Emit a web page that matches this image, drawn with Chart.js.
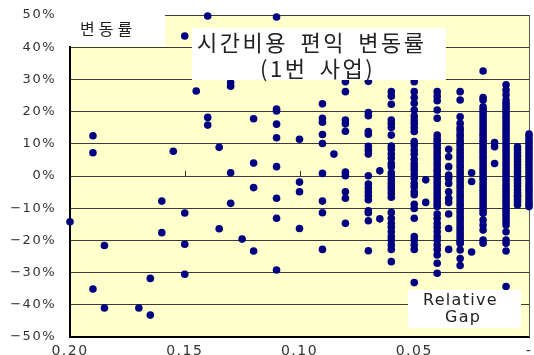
<!DOCTYPE html>
<html>
<head>
<meta charset="utf-8">
<script src="https://cdn.jsdelivr.net/npm/chart.js@4/dist/chart.umd.min.js"></script>
<style>
  html, body { margin: 0; padding: 0; background: #ffffff; }
  canvas { display: block; }
</style>
</head>
<body>
<canvas id="chart" width="534" height="355"></canvas>
<script>
// Relative gap levels (x) and the benefit change rates (%) observed at each level
const gapSteps = [0.20, 0.19, 0.185, 0.17, 0.165, 0.16, 0.155, 0.15, 0.145, 0.14, 0.135, 0.13, 0.125, 0.12,
  0.11, 0.10, 0.09, 0.085, 0.08, 0.07, 0.065, 0.06, 0.05, 0.045, 0.04, 0.035, 0.03, 0.025, 0.02, 0.015, 0.01, 0.005, 0];

const changeAtGap = [
  [-14.2],
  [12.5, 7.2, -35.1],
  [-21.6, -41.0],
  [-41.0],
  [-31.8, -43.2],
  [-7.8, -17.6],
  [7.7],
  [43.5, -11.5, -21.2, -30.5],
  [26.4],
  [49.7, 18.2, 15.8],
  [8.9, -16.4],
  [29.0, 27.9, 1.0, -8.5],
  [-19.6],
  [17.8, 4.0, -3.6, -23.3],
  [49.4, 20.8, 20.2, 16.1, 11.9, 2.9, -6.9, -13.1, -29.2],
  [11.4, -1.9, -4.9, -16.3],
  [22.4, 17.9, 16.7, 12.9, 10.1, 0.8, -7.8, -11.4, -22.8],
  [6.8],
  [29.3, 26.2, 17.4, 16.2, 13.9, 1.2, 0.1, -4.9, -6.9, -14.7],
  [29.4, 19.7, 18.7, 13.8, 13.0, 9.2, 8.0, 6.8, 0.1, -2.5, -3.7, -4.9, -6.1, -7.4, -10.8, -11.4, -13.9, -23.2],
  [1.6, -13.3],
  [26.2, 24.8, 22.3, 17.4, 16.4, 15.1, 12.7, 9.3, 8.3, 6.8, 5.5, 3.9, 2.9, 1.0, 0.1, -1.2, -2.3, -3.3, -4.3,
   -5.4, -6.6, -11.3, -13.1, -14.7, -15.9, -17.3, -18.8, -19.9, -21.4, -22.8, -26.6],
  [29.3, 26.2, 24.4, 22.6, 20.5, 18.6, 17.4, 16.4, 15.1, 13.8, 10.7, 9.6, 8.1, 6.8, 5.2, 3.9, 2.9, 1.9, 0.6,
   -0.7, -2.3, -3.3, -4.9, -5.8, -8.8, -10.1, -13.1, -18.8, -19.9, -21.4, -22.8, -33.1],
  [-1.2, -8.2],
  [26.2, 24.8, 23.4, 20.5, 17.9, 12.7, 11.6, 10.8, 9.7, 8.9, 7.8, 6.9, 6.0, 5.1, 4.0, 3.2, 2.1, 1.3, 0.2,
   -0.6, -1.6, -2.5, -3.4, -4.3, -5.3, -6.1, -7.1, -8.0, -8.8, -9.5, -11.8, -13.1, -14.7, -15.9, -17.3,
   -18.8, -19.9, -21.4, -22.8, -24.5, -27.1, -30.2],
  [8.3, 6.0, 2.9, 0.3, -0.7, -2.3, -4.9, -6.9, -8.2, -11.8, -16.3, -22.8],
  [26.2, 23.6, 18.4, 16.4, 15.0, 14.1, 13.0, 12.2, 11.1, 10.2, 9.3, 8.3, 7.4, 6.4, 5.5, 4.6, 3.6, 2.7, 1.7,
   0.8, -0.2, -1.1, -2.0, -3.0, -3.9, -4.9, -5.8, -6.7, -7.7, -8.6, -9.5, -10.5, -11.4, -12.4, -13.3,
   -14.2, -15.2, -16.1, -17.0, -18.0, -18.9, -19.8, -20.5, -21.0, -23.0, -25.6, -27.8],
  [1.0, -1.7, -23.6],
  [32.6, 24.4, 23.6, 21.5, 20.6, 19.6, 18.7, 17.7, 16.8, 15.8, 14.9, 14.0, 13.0, 12.1, 11.1, 10.2, 9.2, 8.3,
   7.4, 6.4, 5.5, 4.5, 3.6, 2.6, 1.7, 0.8, -0.2, -1.1, -2.1, -3.0, -4.0, -4.9, -5.8, -6.8, -7.7, -8.7,
   -9.6, -10.6, -11.6, -13.7, -15.2, -16.8, -19.9, -20.9],
  [10.4, 9.1, 3.9],
  [28.3, 26.7, 25.2, 23.6, 22.6, 21.7, 20.7, 19.8, 18.8, 17.9, 16.9, 16.0, 15.0, 14.1, 13.2, 12.2, 11.3,
   10.3, 9.4, 8.4, 7.5, 6.6, 5.6, 4.7, 3.7, 2.8, 1.8, 0.9, 0.0, -1.0, -1.9, -2.9, -3.8, -4.7, -5.7, -6.6,
   -7.6, -8.5, -9.5, -10.4, -11.3, -12.3, -13.2, -14.2, -15.2, -17.3, -19.9, -20.9, -23.3, -34.3],
  [9.1, 8.2, 7.2, 6.3, 5.3, 4.4, 3.4, 2.5, 1.5, 0.6, -0.4, -1.3, -2.3, -3.2, -4.2, -5.1, -6.0, -6.4, -7.3,
   -8.1, -9.0],
  [13.0, 12.1, 11.1, 10.2, 9.2, 8.3, 7.3, 6.4, 5.4, 4.5, 3.5, 2.6, 1.6, 0.7, -0.3, -1.2, -2.2, -3.1, -4.1,
   -5.0, -6.0, -6.9, -7.9, -8.8, -9.5]
];

// Axis tick values
const gapTicks = [0.20, 0.15, 0.10, 0.05, 0];
const rateTicks = [50, 40, 30, 20, 10, 0, -10, -20, -30, -40, -50];

const points = [];
gapSteps.forEach((g, i) => changeAtGap[i].forEach(v => points.push({ x: g, y: v })));

const plotDecor = {
  id: 'plotDecor',
  beforeDraw(chart) {
    const { ctx, chartArea: a } = chart;
    ctx.save();
    ctx.fillStyle = '#FFFFCC';
    ctx.fillRect(a.left, a.top, a.right - a.left, a.bottom - a.top);
    ctx.restore();
    ctx.letterSpacing = '1.5px';
  },
  beforeDatasetsDraw(chart) {
    const { ctx, chartArea: a, scales } = chart;
    ctx.letterSpacing = '0px';
    ctx.save();
    // right frame edge
    ctx.strokeStyle = '#555';
    ctx.lineWidth = 1;
    ctx.beginPath();
    ctx.moveTo(a.right + 0.5, a.top);
    ctx.lineTo(a.right + 0.5, a.bottom);
    ctx.stroke();
    // small tick marks where the gap axis crosses zero
    const y0 = Math.round(scales.y.getPixelForValue(0));
    ctx.strokeStyle = '#333';
    [0.15, 0.10, 0.05].forEach(v => {
      const px = Math.round(scales.x.getPixelForValue(v)) + 0.5;
      ctx.beginPath();
      ctx.moveTo(px, y0 - 5);
      ctx.lineTo(px, y0);
      ctx.stroke();
    });
    ctx.restore();
  },
  afterDraw(chart) {
    const { ctx } = chart;
    ctx.save();
    ctx.fillStyle = '#ffffff';
    ctx.fillRect(60, 4, 105, 42);
    ctx.fillRect(192, 28, 254, 52);
    ctx.fillRect(408, 290, 113, 38);

    ctx.fillStyle = '#222';
    ctx.textAlign = 'left';
    ctx.textBaseline = 'middle';

    ctx.font = '16px "Noto Sans CJK KR"';
    ctx.letterSpacing = '4px';
    ctx.fillText('변동률', 80, 29);

    ctx.font = '22px "Noto Sans CJK KR"';
    ctx.letterSpacing = '2.5px';
    ctx.wordSpacing = '5px';
    ctx.fillText('시간비용 편익 변동률', 197, 43);
    ctx.fillText('(1번 사업)', 260, 69);
    ctx.wordSpacing = '0px';

    ctx.font = '16px "DejaVu Sans"';
    ctx.letterSpacing = '1.3px';
    ctx.fillText('Relative', 423, 301);
    ctx.fillText('Gap', 445, 318);
    ctx.restore();
  }
};

new Chart(document.getElementById('chart'), {
  type: 'scatter',
  data: {
    datasets: [{
      data: points,
      backgroundColor: '#000080',
      borderColor: '#000080',
      borderWidth: 0,
      pointRadius: 3.8,
      pointHoverRadius: 3.8,
      clip: false
    }]
  },
  options: {
    responsive: false,
    animation: false,
    events: [],
    layout: { padding: { top: 15, right: 5, left: 0, bottom: 0 } },
    plugins: { legend: { display: false }, tooltip: { enabled: false }, title: { display: false } },
    scales: {
      x: {
        type: 'linear',
        reverse: true,
        min: 0,
        max: 0.2,
        afterFit: s => { s.height = 18; s.paddingLeft = 0; s.paddingRight = 0; },
        afterBuildTicks: s => { s.ticks = gapTicks.map(v => ({ value: v })); },
        grid: { display: false, drawTicks: false },
        border: { display: true, color: '#000', width: 2 },
        ticks: {
          padding: 6,
          maxRotation: 0,
          color: '#333',
          font: { family: 'DejaVu Sans', size: 14 },
          callback: v => Math.abs(v) < 1e-9 ? '-' : v.toFixed(2)
        }
      },
      y: {
        min: -50,
        max: 50,
        afterFit: s => { s.width = 70; s.paddingTop = 0; s.paddingBottom = 0; },
        afterBuildTicks: s => { s.ticks = rateTicks.map(v => ({ value: v })); },
        grid: { color: '#3a3a3a', lineWidth: 1, drawTicks: false },
        border: { display: true, color: '#000', width: 2 },
        ticks: {
          padding: 14,
          color: '#333',
          font: { family: 'DejaVu Sans', size: 13 },
          callback: v => (v < 0 ? '\u2212' + Math.abs(v) : v) + '%'
        }
      }
    }
  },
  plugins: [plotDecor]
});
</script>
</body>
</html>
